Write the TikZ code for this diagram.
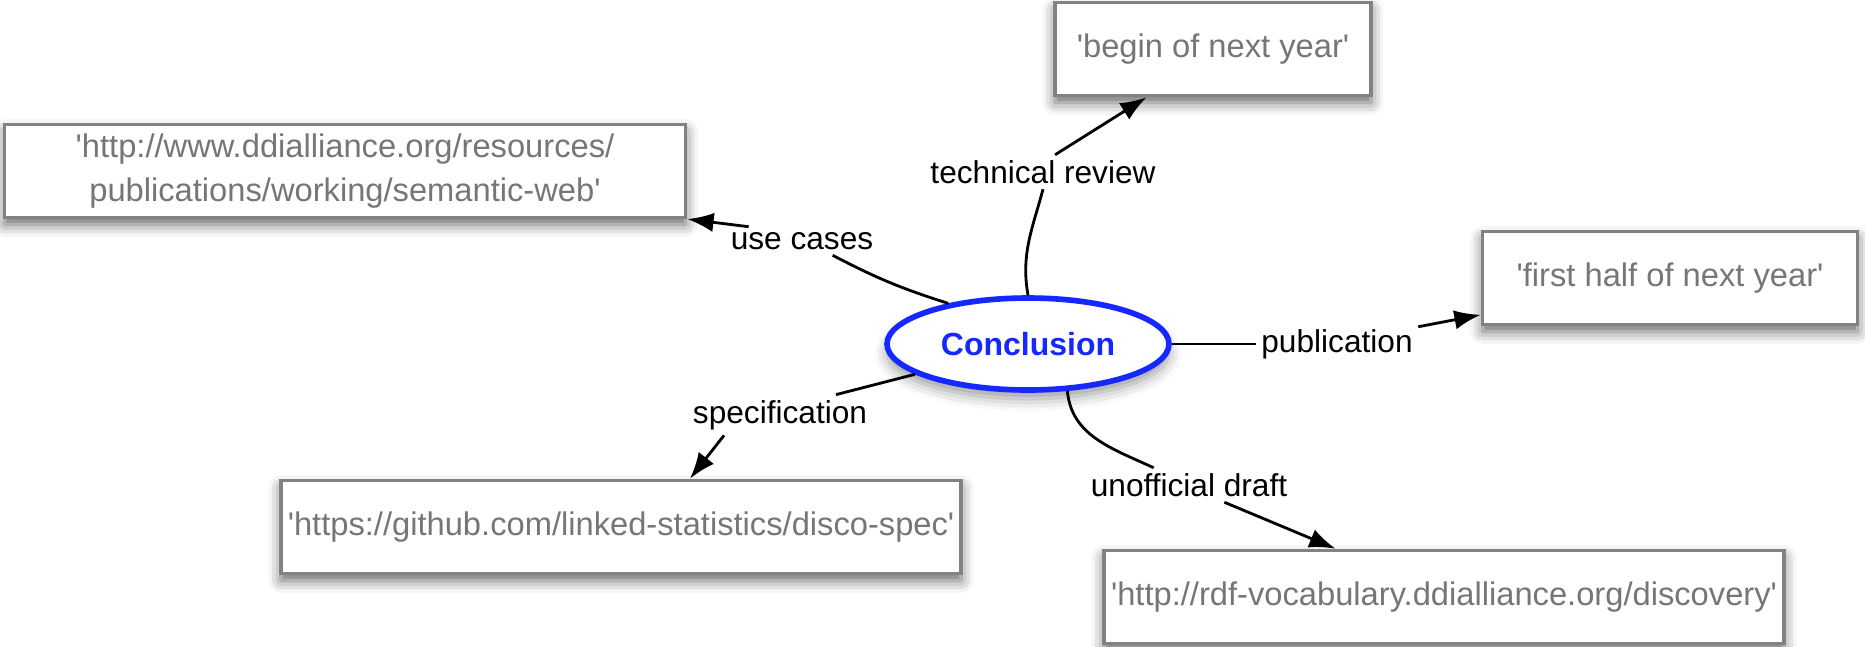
\documentclass[tikz,border=0pt]{standalone}
\usepackage{fontspec}
\setmainfont{Liberation Sans}
\usepackage{tikz}
\usetikzlibrary{arrows.meta,shapes,shadows.blur}

\definecolor{conclblue}{RGB}{20,40,255}
\definecolor{boxgrey}{RGB}{130,130,130}
\definecolor{textgrey}{RGB}{118,118,118}
\newcommand{\squote}{\textquotesingle}

\begin{document}
\begin{tikzpicture}[font=\fontsize{18}{24}\selectfont,
  box/.style={draw=boxgrey, line width=2pt, fill=white, text=textgrey,
    font=\fontsize{18.6}{25}\selectfont, minimum height=1.86cm, align=center,
    blur shadow={shadow xshift=0pt, shadow yshift=-4pt, shadow blur radius=7pt, shadow opacity=60}},
  topic/.style={ellipse, draw=conclblue, line width=3.2pt, fill=white, text=conclblue,
    font=\fontsize{18.2}{24}\selectfont\bfseries, minimum width=5.64cm, minimum height=1.84cm,
    blur shadow={shadow xshift=0pt, shadow yshift=-5pt, shadow blur radius=7pt, shadow opacity=40}},
  rel/.style={inner sep=3pt},
  link/.style={line width=1.6pt},
  arr/.style={line width=1.6pt, -{Latex[length=15pt,width=11pt]}}]

  \useasboundingbox (0,0) rectangle (37.30,-12.92);

  % Nodes
  \node[topic] (concl) at (20.56,-6.88) {Conclusion};

  \node[box, minimum width=6.32cm] (begin) at (24.26,-0.98) {\squote begin of next year\squote};
  \node[box, minimum width=13.62cm] (ddi) at (6.90,-3.42)
    {\squote http://www.ddialliance.org/resources/\\publications/working/semantic-web\squote};
  \node[box, minimum width=7.50cm] (firsthalf) at (33.40,-5.56) {\squote first half of next year\squote};
  \node[box, minimum width=13.60cm] (github) at (12.42,-10.54)
    {\squote https://github.com/linked-statistics/disco-spec\squote};
  \node[box, minimum width=13.60cm] (rdf) at (28.88,-11.94)
    {\squote http://rdf-vocabulary.ddialliance.org/discovery\squote};

  \node[rel] (tech) at (20.86,-3.44) {technical review};
  \node[rel] (usec) at (16.04,-4.82) {use cases};
  \node[rel] (pub) at (26.74,-6.88) {publication};
  \node[rel] (spec) at (15.60,-8.30) {specification};
  \node[rel] (unoff) at (23.78,-9.70) {unofficial draft};

  % Edges
  \draw[link] (concl.north) to[out=100,in=-105] (tech.south);
  \draw[arr] (tech.55) -- (begin.-144);

  \draw[link] (concl.153) to[bend left=5] (usec.-25);
  \draw[arr] (usec.165) -- (ddi.-8.5);

  \draw[link] (concl.east) -- (pub.west);
  \draw[arr] (pub.12) -- (firsthalf.191);

  \draw[link] (concl.-165) -- (spec.20);
  \draw[arr] (spec.-160) -- (github.35);

  \draw[link] (concl.-50) to[out=-85,in=155] (unoff.154);
  \draw[arr] (unoff.-26) -- (rdf.156);
\end{tikzpicture}
\end{document}
